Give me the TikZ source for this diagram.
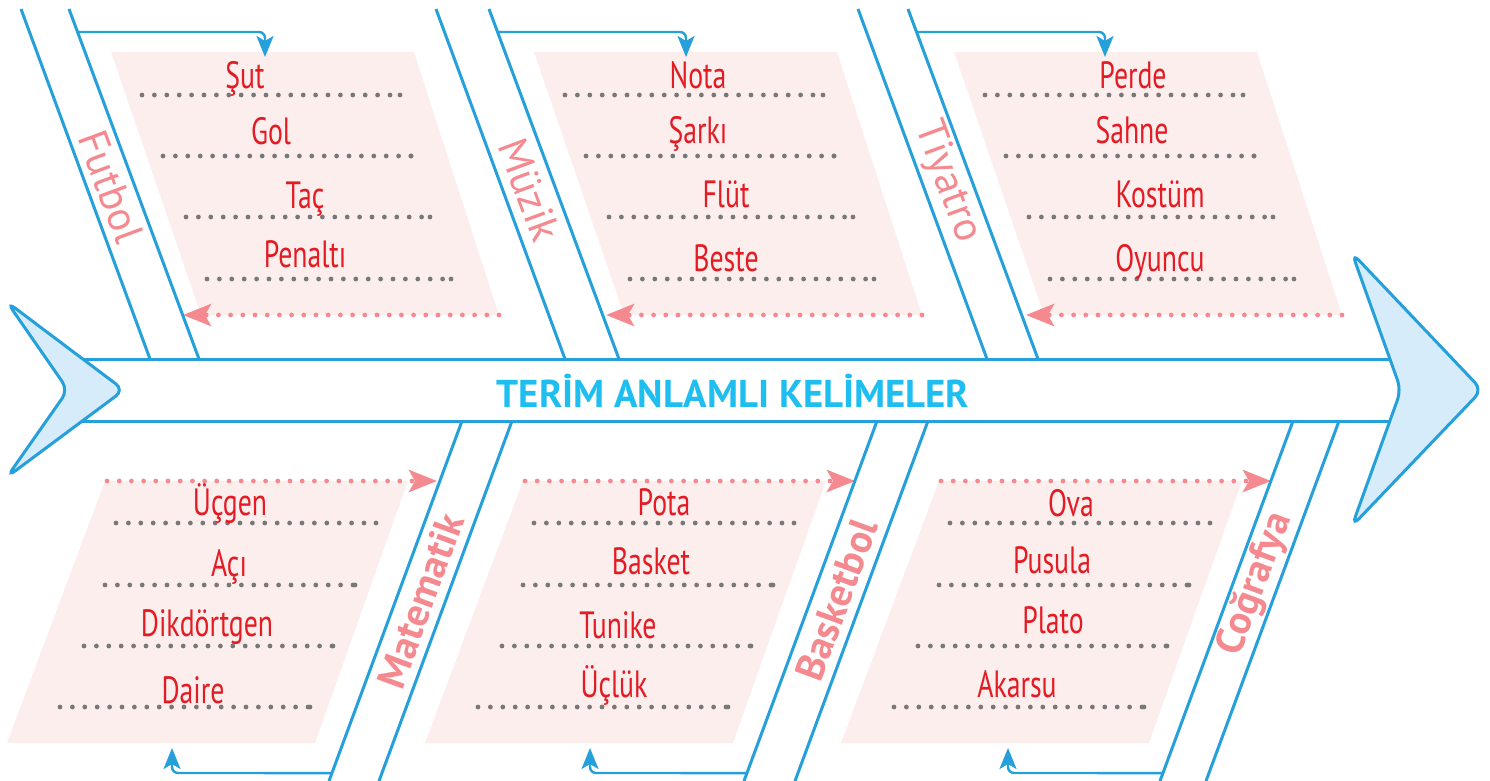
\documentclass[tikz,border=0pt]{standalone}
\usepackage{fontspec}
\setmainfont{PT Sans}
\newfontfamily\wordfont{PT Sans}[FakeStretch=0.73]
\usetikzlibrary{calc,arrows.meta}

\definecolor{boneblue}{RGB}{38,160,218}
\definecolor{headfill}{RGB}{214,236,251}
\definecolor{titlecyan}{RGB}{30,190,240}
\definecolor{panelpink}{RGB}{253,238,238}
\definecolor{dotpink}{RGB}{244,137,143}
\definecolor{wordred}{RGB}{227,27,35}
\definecolor{dotgray}{RGB}{120,120,120}

\tikzset{
  bone/.style={draw=boneblue, line width=1.5pt},
  panel/.style={fill=panelpink},
  graydots/.style={draw=dotgray, line width=2.4pt, line cap=round, dash pattern=on 0pt off 6.2pt},
  pinkdots/.style={draw=dotpink, line width=2.4pt, line cap=round, dash pattern=on 0pt off 6.1pt,
    -{Stealth[length=14pt, width=11pt, inset=3pt]}},
  bluearrow/.style={draw=boneblue, line width=1.2pt, rounded corners=3pt,
    -{Stealth[length=10.5pt, width=8.5pt, inset=2.5pt]}},
  word/.style={text=wordred, font=\wordfont\fontsize{19}{21}\selectfont, anchor=base},
  bonelabel/.style={text=dotpink, font=\fontsize{21}{24}\selectfont},
  title/.style={text=titlecyan, font=\bfseries\fontsize{19.4}{22}\selectfont, anchor=base},
}

\begin{document}
\begin{tikzpicture}[x=0.5pt, y=-0.5pt]
  \useasboundingbox (0,0) rectangle (1490,781);

  % pembe alanlar
  \foreach \p in {111,534,954}
    \fill[panel] (\p,52) -- (\p+303,52) -- (\p+388,315) -- (\p+90,315) -- cycle;
  \foreach \q in {105,523,939}
    \fill[panel] (\q,481) -- (\q+303,481) -- (\q+210,743) -- (\q-98,743) -- cycle;

  % yazma satirlari
  \foreach \p in {111,534,954}{
    \foreach \s/\e/\y in {31/289/95, 52/300/156, 75/319/217, 96/340/279}{
      \draw[graydots] (\p+\s,\y) -- (\p+\e,\y);
      \fill[dotgray] (\p+\e,\y) circle (1.2pt);
    }
    \draw[pinkdots] (\p+388,315) -- (\p+72,315);
  }
  \foreach \q in {105,523,939}{
    \foreach \s/\e/\y in {11/271/523, 0/250/585, -21/228/646, -45/205/707}{
      \draw[graydots] (\q+\s,\y) -- (\q+\e,\y);
      \fill[dotgray] (\q+\e,\y) circle (1.2pt);
    }
    \draw[pinkdots] (\q+2,481) -- (\q+332,481);
  }

  % omurga
  \coordinate (sp-a) at (60,359);
  \coordinate (sp-b) at (1395,359);
  \coordinate (sp-c) at (60,421);
  \coordinate (sp-d) at (1395,421);
  \draw[bone] (sp-a) -- (sp-b);
  \draw[bone] (sp-c) -- (sp-d);

  % ust kilcaklar
  \foreach \n/\xo/\xi/\ax/\lab/\ly in {fut/21/69/265/Futbol/187, muz/436/489/686/Müzik/190, tiy/858/908/1105/Tiyatro/182}{
    \coordinate (\n-o1) at (\xo,9);
    \coordinate (\n-o2) at (\xo+129,359);
    \coordinate (\n-i1) at (\xi,9);
    \coordinate (\n-i2) at (\xi+130,359);
    \draw[bone] (\n-o1) -- (\n-o2);
    \draw[bone] (\n-i1) -- (\n-i2);
    \coordinate (\n-start) at ($(\n-i1)!0.0657!(\n-i2)$);
    \draw[bluearrow] (\n-start) -- (\ax,32) -- (\ax,57);
    \node[bonelabel, rotate=-69.7] (\n-lab) at ({(\xo+\xi)/2+0.3696*(\ly-9)},\ly) {\lab};
  }

  % alt kilcaklar
  \foreach \n/\xl/\xr/\ax/\lab/\ly in {mat/462/512/172/Matematik/601, bas/877/928/590/Basketbol/600, cog/1293/1339/1008/Coğrafya/584}{
    \coordinate (\n-l1) at (\xl,421);
    \coordinate (\n-l2) at (\xl-133,781);
    \coordinate (\n-r1) at (\xr,421);
    \coordinate (\n-r2) at (\xr-133,781);
    \draw[bone] (\n-l1) -- (\n-l2);
    \draw[bone] (\n-r1) -- (\n-r2);
    \coordinate (\n-start) at ($(\n-l1)!0.978!(\n-l2)$);
    \draw[bluearrow] (\n-start) -- (\ax,773) -- (\ax,748);
    \node[bonelabel, font=\bfseries\fontsize{20}{24}\selectfont, rotate=69.8] (\n-lab)
      at ({(\xl+\xr)/2-0.3696*(\ly-421)},\ly) {\lab};
  }

  % kuyruk ve bas
  \filldraw[bone, fill=headfill, rounded corners=5pt]
    (7,302) -- (124,390) -- (7,477) -- (68,390) -- cycle;
  \filldraw[bone, fill=headfill, rounded corners=5pt]
    (1352,253) -- (1482,390) -- (1352,526) -- (1401,390) -- cycle;

  \node[title] (title) at (733,407) {TERİM ANLAMLI KELİMELER};

  % kelimeler
  \foreach \w/\x/\y [count=\k] in {Şut/245/89, Gol/271/145, Taç/305/208, Penaltı/305/267,
      Nota/698/89, Şarkı/698/144, Flüt/726/207, Beste/726/271,
      Perde/1133/89, Sahne/1132/144, Kostüm/1160/207, Oyuncu/1160/271,
      Üçgen/230/515, Açı/229/576, Dikdörtgen/207/636, Daire/193/703,
      Pota/664/515, Basket/651/574, Tunike/618/638, Üçlük/614/697,
      Ova/1071/516, Pusula/1052/573, Plato/1053/633, Akarsu/1017/697}
    \node[word] (word\k) at (\x,\y) {\w};
\end{tikzpicture}
\end{document}
